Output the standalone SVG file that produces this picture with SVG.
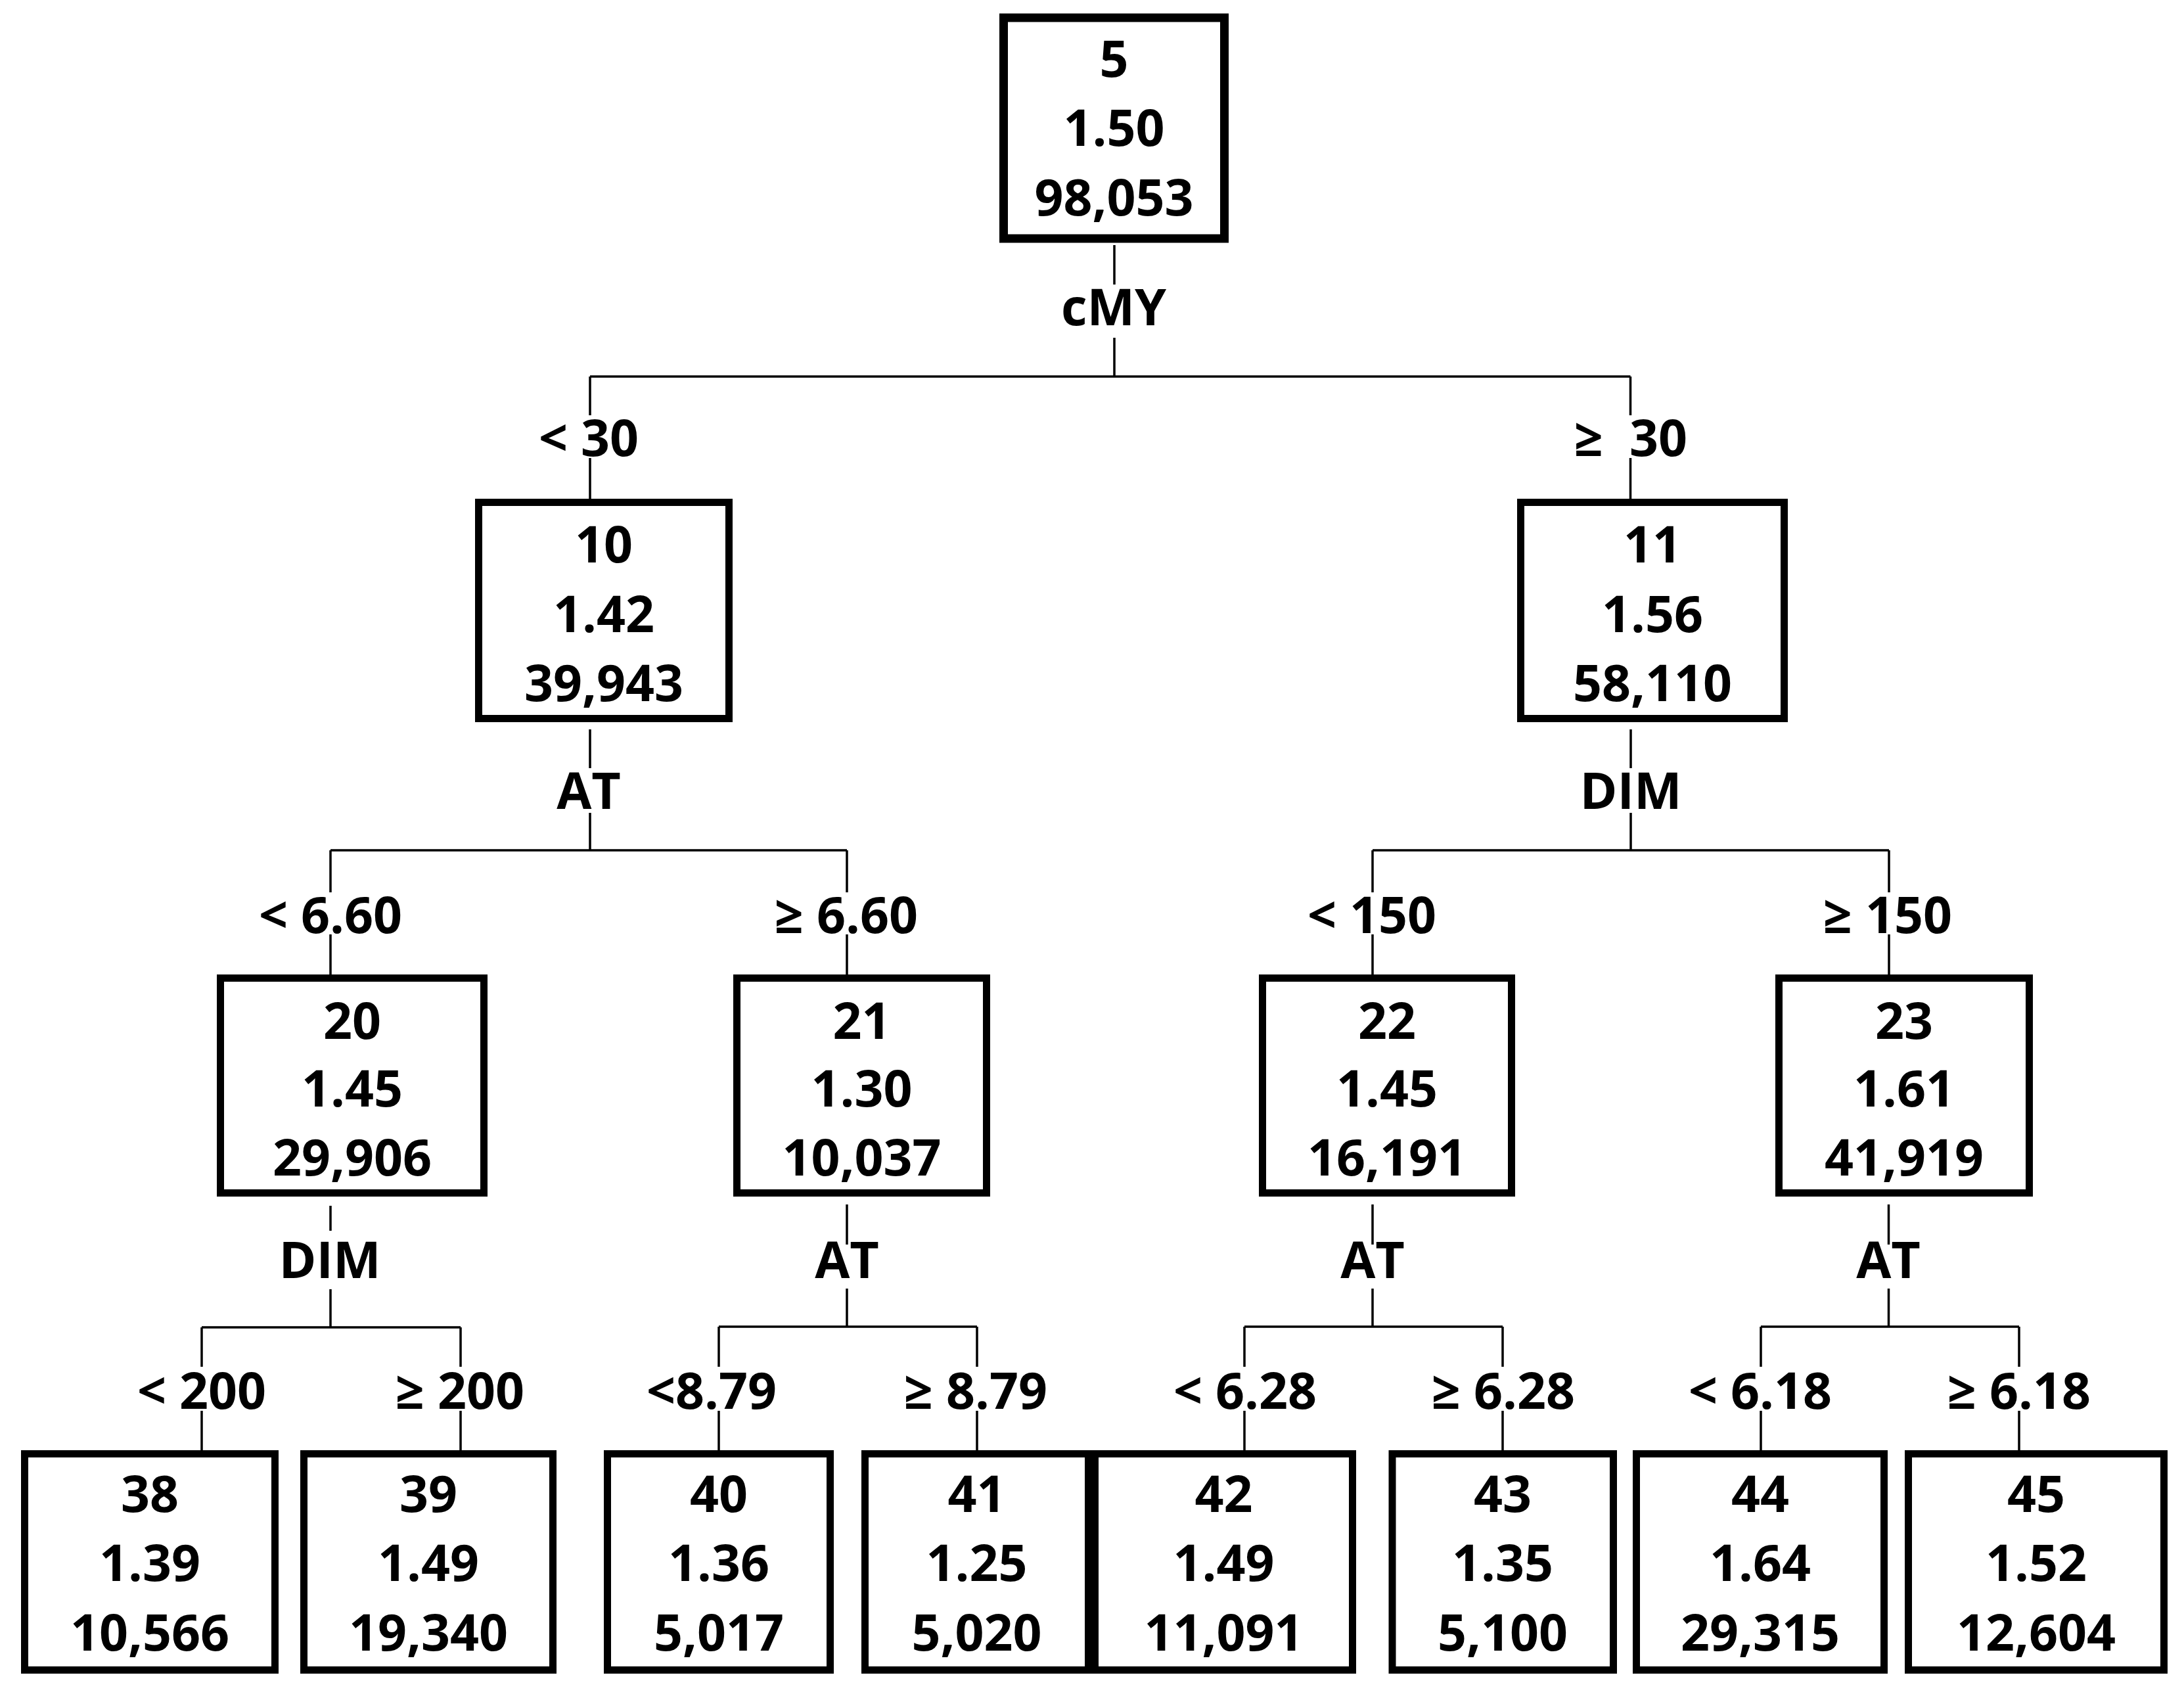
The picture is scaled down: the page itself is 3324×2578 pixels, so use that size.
<svg xmlns="http://www.w3.org/2000/svg" width="3324" height="2578" viewBox="0 0 3324 2578">
<style>
.bg{fill:#fff}
.box{fill:#fff;stroke:#000;stroke-width:11}
.box0{fill:#fff;stroke:#000;stroke-width:13}
.t{font-family:"Open Sans","Noto Sans","Liberation Sans",sans-serif;font-weight:700;font-size:77px;text-anchor:middle;fill:#000}
.c{stroke:#000;stroke-width:3.5;fill:none}
</style>
<rect class="bg" x="0" y="0" width="3324" height="2578"/>
<g id="connectors">
<path class="c" d="M1696 373V433M1696 514V573M898 573H2481.5M898 573V632M898 697V759M2481.5 573V632M2481.5 697V759"/>
<path class="c" d="M898 1110V1169M898 1237V1294M503 1294H1289M503 1294V1358M503 1422V1483M1289 1294V1358M1289 1422V1483"/>
<path class="c" d="M2482 1110V1169M2482 1237V1294M2089 1294H2875M2089 1294V1358M2089 1422V1483M2875 1294V1358M2875 1422V1483"/>
<path class="c" d="M503 1835V1873M503 1962V2020M307 2020H701M307 2020V2080M307 2147V2207M701 2020V2080M701 2147V2207"/>
<path class="c" d="M1289 1833V1894M1289 1961V2019M1094 2019H1487M1094 2019V2080M1094 2147V2207M1487 2019V2080M1487 2147V2207"/>
<path class="c" d="M2089 1833V1894M2089 1961V2019M1894 2019H2287M1894 2019V2080M1894 2147V2207M2287 2019V2080M2287 2147V2207"/>
<path class="c" d="M2874.5 1833V1894M2874.5 1961V2019M2680 2019H3073M2680 2019V2080M2680 2147V2207M3073 2019V2080M3073 2147V2207"/>
<text class="t" x="1695" y="495">cMY</text>
<text class="t" x="896" y="694">&lt; 30</text>
<text class="t" x="2482" y="694">≥&#160; 30</text>
<text class="t" x="896" y="1231">AT</text>
<text class="t" x="2482" y="1231">DIM</text>
<text class="t" x="503" y="1420">&lt; 6.60</text>
<text class="t" x="1288" y="1420">≥ 6.60</text>
<text class="t" x="2088" y="1420">&lt; 150</text>
<text class="t" x="2873" y="1420">≥ 150</text>
<text class="t" x="502" y="1945">DIM</text>
<text class="t" x="1289" y="1945">AT</text>
<text class="t" x="2089" y="1945">AT</text>
<text class="t" x="2874" y="1945">AT</text>
<text class="t" x="307" y="2144">&lt; 200</text>
<text class="t" x="700" y="2144">≥ 200</text>
<text class="t" x="1083" y="2144">&lt;8.79</text>
<text class="t" x="1485" y="2144">≥ 8.79</text>
<text class="t" x="1895" y="2144">&lt; 6.28</text>
<text class="t" x="2288" y="2144">≥ 6.28</text>
<text class="t" x="2679" y="2144">&lt; 6.18</text>
<text class="t" x="3073" y="2144">≥ 6.18</text>
</g>
<g id="n5"><rect class="box0" x="1527.5" y="27" width="336" height="336"/>
<text class="t" x="1695.5" y="117">5</text><text class="t" x="1695.5" y="222">1.50</text><text class="t" x="1695.5" y="328">98,053</text></g>
<g id="n10"><rect class="box" x="728.5" y="764.5" width="381" height="329"/>
<text class="t" x="919" y="856">10</text><text class="t" x="919" y="962">1.42</text><text class="t" x="919" y="1067">39,943</text></g>
<g id="n11"><rect class="box" x="2314.5" y="764.5" width="401" height="329"/>
<text class="t" x="2515" y="856">11</text><text class="t" x="2515" y="962">1.56</text><text class="t" x="2515" y="1067">58,110</text></g>
<g id="n20"><rect class="box" x="335.5" y="1488.5" width="401" height="327"/>
<text class="t" x="536" y="1581">20</text><text class="t" x="536" y="1684">1.45</text><text class="t" x="536" y="1789">29,906</text></g>
<g id="n21"><rect class="box" x="1121.5" y="1488.5" width="380" height="327"/>
<text class="t" x="1311.5" y="1581">21</text><text class="t" x="1311.5" y="1684">1.30</text><text class="t" x="1311.5" y="1789">10,037</text></g>
<g id="n22"><rect class="box" x="1921.5" y="1488.5" width="379" height="327"/>
<text class="t" x="2111" y="1581">22</text><text class="t" x="2111" y="1684">1.45</text><text class="t" x="2111" y="1789">16,191</text></g>
<g id="n23"><rect class="box" x="2707.5" y="1488.5" width="381" height="327"/>
<text class="t" x="2898" y="1581">23</text><text class="t" x="2898" y="1684">1.61</text><text class="t" x="2898" y="1789">41,919</text></g>
<g id="n38"><rect class="box" x="37.5" y="2212.5" width="381" height="329"/>
<text class="t" x="228" y="2301">38</text><text class="t" x="228" y="2406">1.39</text><text class="t" x="228" y="2512">10,566</text></g>
<g id="n39"><rect class="box" x="462.5" y="2212.5" width="379" height="329"/>
<text class="t" x="652" y="2301">39</text><text class="t" x="652" y="2406">1.49</text><text class="t" x="652" y="2512">19,340</text></g>
<g id="n40"><rect class="box" x="924.5" y="2212.5" width="339" height="329"/>
<text class="t" x="1094" y="2301">40</text><text class="t" x="1094" y="2406">1.36</text><text class="t" x="1094" y="2512">5,017</text></g>
<g id="n41"><rect class="box" x="1316.5" y="2212.5" width="340" height="329"/>
<text class="t" x="1486.5" y="2301">41</text><text class="t" x="1486.5" y="2406">1.25</text><text class="t" x="1486.5" y="2512">5,020</text></g>
<g id="n42"><rect class="box" x="1666.5" y="2212.5" width="392" height="329"/>
<text class="t" x="1862.5" y="2301">42</text><text class="t" x="1862.5" y="2406">1.49</text><text class="t" x="1862.5" y="2512">11,091</text></g>
<g id="n43"><rect class="box" x="2119" y="2212.5" width="336.5" height="329"/>
<text class="t" x="2287" y="2301">43</text><text class="t" x="2287" y="2406">1.35</text><text class="t" x="2287" y="2512">5,100</text></g>
<g id="n44"><rect class="box" x="2490.5" y="2212.5" width="377" height="329"/>
<text class="t" x="2679" y="2301">44</text><text class="t" x="2679" y="2406">1.64</text><text class="t" x="2679" y="2512">29,315</text></g>
<g id="n45"><rect class="box" x="2904.5" y="2212.5" width="389" height="329"/>
<text class="t" x="3099" y="2301">45</text><text class="t" x="3099" y="2406">1.52</text><text class="t" x="3099" y="2512">12,604</text></g>
</svg>
